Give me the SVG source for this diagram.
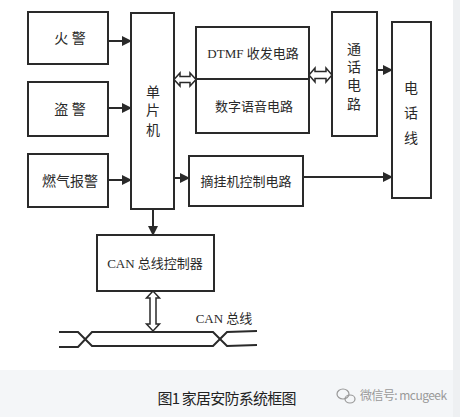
<svg xmlns="http://www.w3.org/2000/svg" width="460" height="417" viewBox="0 0 460 417">
<defs>
<style>
.b{fill:#fff;stroke:#2a2a2a;stroke-width:2}
.l{fill:none;stroke:#2a2a2a;stroke-width:2}
.t{font-family:"Liberation Serif","Noto Sans CJK SC",serif;font-size:14px;fill:#2a2a2a;text-anchor:middle}
.s{font-size:13px}
.h{fill:#fff;stroke:#2a2a2a;stroke-width:1.5}
</style>
<marker id="a" viewBox="0 0 10 10" refX="9" refY="5" markerWidth="10" markerHeight="10" markerUnits="userSpaceOnUse" orient="auto"><path d="M0,0L10,5L0,10z" fill="#2a2a2a"/></marker>
</defs>
<rect width="460" height="417" fill="#fff"/>
<rect x="0" y="370" width="460" height="47" fill="#f4f6f8"/>
<rect x="453" y="0" width="7" height="417" fill="#eef0f2"/>
<g id="n-fire"><rect class="b" x="28" y="12" width="80" height="52"/><text class="t" x="70" y="43">火 警</text></g>
<g id="n-theft"><rect class="b" x="28" y="82" width="80" height="54"/><text class="t" x="70" y="114">盗 警</text></g>
<g id="n-gas"><rect class="b" x="28" y="154" width="80" height="53"/><text class="t" x="70" y="186">燃气报警</text></g>
<g id="n-mcu"><rect class="b" x="131" y="13" width="43" height="196"/><text class="t" x="153" y="97">单</text><text class="t" x="153" y="115">片</text><text class="t" x="153" y="135">机</text></g>
<g id="n-dtmf"><rect class="b" x="196" y="27" width="113" height="52"/><text class="t s" x="253" y="58">DTMF 收发电路</text></g>
<g id="n-voice"><rect class="b" x="196" y="79" width="113" height="54"/><text class="t s" x="254" y="111">数字语音电路</text></g>
<g id="n-hook"><rect class="b" x="189" y="156" width="114" height="50"/><text class="t s" x="246" y="186">摘挂机控制电路</text></g>
<g id="n-talk"><rect class="b" x="332" y="12" width="45" height="124"/><text class="t" x="354" y="54">通</text><text class="t" x="354" y="72">话</text><text class="t" x="354" y="90">电</text><text class="t" x="354" y="109">路</text></g>
<g id="n-line"><rect class="b" x="392" y="22" width="39" height="176"/><text class="t" x="411" y="93">电</text><text class="t" x="411" y="118">话</text><text class="t" x="411" y="143">线</text></g>
<g id="n-can"><rect class="b" x="97" y="235" width="117" height="56"/><text class="t s" x="155" y="268">CAN 总线控制器</text></g>
<g id="connectors">
<line class="l" x1="108" y1="41" x2="131" y2="41" stroke-width="3" marker-end="url(#a)"/>
<line class="l" x1="108" y1="108" x2="131" y2="108" stroke-width="3" marker-end="url(#a)"/>
<line class="l" x1="108" y1="180" x2="131" y2="180" stroke-width="3" marker-end="url(#a)"/>
<line class="l" x1="174" y1="178" x2="189" y2="178" stroke-width="3" marker-end="url(#a)"/>
<line class="l" x1="303" y1="177" x2="392" y2="177" marker-end="url(#a)"/>
<line class="l" x1="377" y1="70" x2="392" y2="70" stroke-width="3" marker-end="url(#a)"/>
<line class="l" x1="153" y1="209" x2="153" y2="235" stroke-width="2.5" marker-end="url(#a)"/>
<path class="h" d="M174,79.5L180,73L180,76.5L190,76.5L190,73L196,79.5L190,86L190,82.5L180,82.5L180,86Z"/>
<path class="h" d="M309,75L315,68L315,71.5L326,71.5L326,68L332,75L326,82L326,78.5L315,78.5L315,82Z"/>
<path class="h" d="M153,291L146.5,298L150,298L150,324L146.5,324L153,331L159.5,324L156,324L156,298L159.5,298Z"/>
<path class="l" d="M59,332L78,332L92,346L213,346L227,332L257,331" stroke-width="1.8"/>
<path class="l" d="M59,347L78,347L92,332L213,332L227,346L257,345" stroke-width="1.8"/>
</g>
<text class="t s" x="224" y="323">CAN 总线</text>
<text x="227" y="404" textLength="139" style="font-family:'Noto Sans CJK SC',sans-serif;font-size:15px;fill:#222;text-anchor:middle">图1 家居安防系统框图</text>
<g fill="none" stroke="#999" stroke-width="1.2"><ellipse cx="343" cy="394" rx="6" ry="5"/><ellipse cx="350" cy="399" rx="5" ry="4"/></g>
<text x="360" y="400" textLength="87" style="font-family:'Noto Sans CJK SC',sans-serif;font-size:12px;fill:#9a9a9a">微信号: mcugeek</text>
</svg>
